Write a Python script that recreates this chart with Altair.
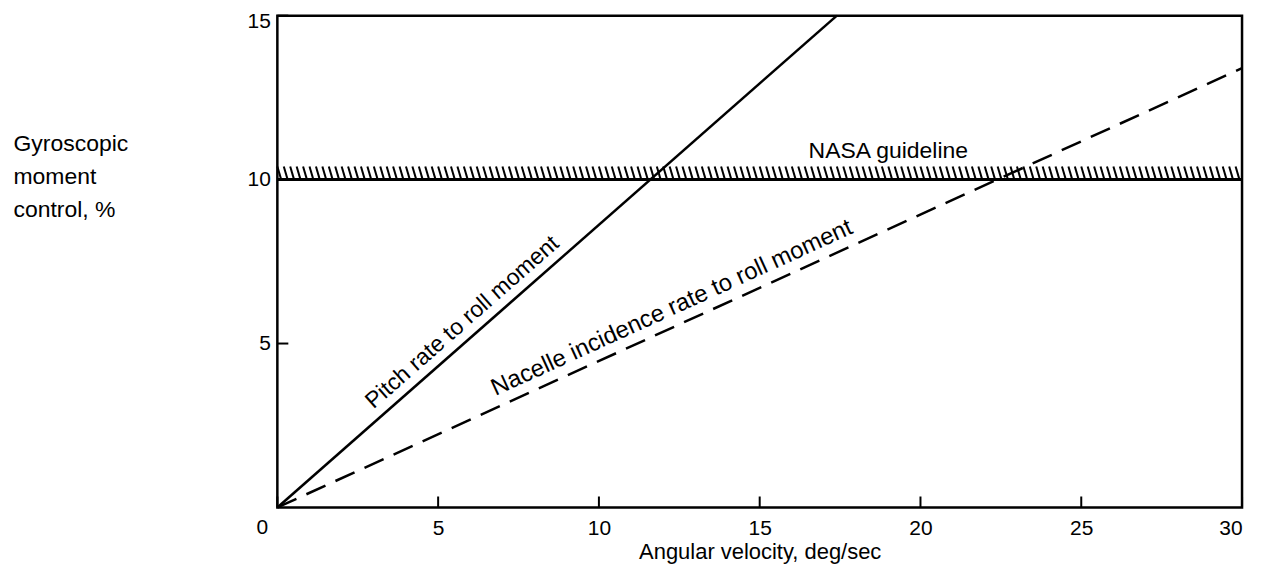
import math
import altair as alt
import pandas as pd

# ---- data ----
x_ticks = [0, 5, 10, 15, 20, 25, 30]
y_ticks = [5, 10, 15]
pitch_x = [0, 17.4]
pitch_y = [0, 15]
nacelle_x = [0, 30]
nacelle_y = [0, 13.4]
guideline = 10
hatch_top = 10.4
pitch_label = "Pitch rate to roll moment"
nacelle_label = "Nacelle incidence rate to roll moment"
guide_label = "NASA guideline"
pitch_label_x = 6.1
nacelle_label_x = 12.5
guide_label_x = 19.0

W, H = 967, 493
FONT = "Liberation Sans"
FS = 21
TFS = 23

xs = alt.Scale(domain=[0, 30], nice=False, zero=False)
ys = alt.Scale(domain=[0, 15], nice=False, zero=False)

pitch_df = pd.DataFrame({"x": pitch_x, "y": pitch_y})
nac_df = pd.DataFrame({"x": nacelle_x, "y": nacelle_y})

pitch = alt.Chart(pitch_df).mark_line(color="black", strokeWidth=2.5).encode(
    x=alt.X("x:Q", scale=xs, axis=alt.Axis(
        values=x_ticks, title="Angular velocity, deg/sec", grid=False, domain=False,
        ticks=False, labelFont=FONT, labelFontSize=FS, labelColor="black",
        labelPadding=10, titleFont=FONT, titleFontSize=22, titleFontWeight="normal",
        titleColor="black", titlePadding=3,
        labelExpr="datum.value == 0 ? '' : datum.label")),
    y=alt.Y("y:Q", scale=ys, axis=alt.Axis(
        values=y_ticks, title=["Gyroscopic", "moment", "control, %"], grid=False,
        domain=False, ticks=False, labelFont=FONT, labelFontSize=FS,
        labelColor="black", labelPadding=7, labelFlush=True, labelFlushOffset=5,
        titleFont=FONT, titleFontSize=TFS,
        titleFontWeight="normal", titleColor="black", titleAngle=0,
        titleAlign="left", titleBaseline="top", titleX=-265, titleY=117,
        titleLineHeight=33)),
)

nacelle = alt.Chart(nac_df).mark_line(color="black", strokeWidth=2.5,
                                      strokeDash=[21, 11]).encode(x="x:Q", y="y:Q")

# guideline line and hatching
guide = alt.Chart(pd.DataFrame({"y": [guideline]})).mark_rule(
    color="black", strokeWidth=3).encode(y="y:Q")
hatch = alt.Chart(alt.sequence(0, 30, 0.2, as_="h")).transform_calculate(
    h2="datum.h + 0.12", yt=str(hatch_top), yb=str(guideline)
).mark_rule(color="black", strokeWidth=2).encode(
    x="h:Q", x2="h2:Q", y="yt:Q", y2="yb:Q")

# inward ticks
xt = alt.Chart(pd.DataFrame({"x": x_ticks})).mark_rule(
    color="black", strokeWidth=2).encode(
    x="x:Q", y=alt.value(H), y2=alt.value(H - 11))
yt = alt.Chart(pd.DataFrame({"y": y_ticks})).mark_rule(
    color="black", strokeWidth=2).encode(
    y="y:Q", x=alt.value(0), x2=alt.value(11))
zero = alt.Chart(pd.DataFrame({"x": [0], "t": ["0"]})).mark_text(
    font=FONT, fontSize=FS, color="black", baseline="top", dx=-15, dy=10
).encode(x="x:Q", y=alt.value(H), text="t:N")

# angled labels along lines
def ang(x0, y0, x1, y1):
    dxp = (x1 - x0) * W / 30
    dyp = (y1 - y0) * H / 15
    return 360 - math.degrees(math.atan2(dyp, dxp))

pa = ang(pitch_x[0], pitch_y[0], pitch_x[1], pitch_y[1])
na = ang(nacelle_x[0], nacelle_y[0], nacelle_x[1], nacelle_y[1])
py = pitch_label_x * pitch_y[1] / pitch_x[1]
ny = nacelle_label_x * nacelle_y[1] / nacelle_x[1]

plab = alt.Chart(pd.DataFrame({"x": [pitch_label_x], "y": [py], "t": [pitch_label]})).mark_text(
    font=FONT, fontSize=TFS, color="black", angle=pa, baseline="bottom",
    align="center", dy=-5).encode(x="x:Q", y="y:Q", text="t:N")
nlab = alt.Chart(pd.DataFrame({"x": [nacelle_label_x], "y": [ny], "t": [nacelle_label]})).mark_text(
    font=FONT, fontSize=TFS + 1, color="black", angle=na, baseline="bottom",
    align="center", dy=-6).encode(x="x:Q", y="y:Q", text="t:N")
glab = alt.Chart(pd.DataFrame({"x": [guide_label_x], "y": [hatch_top], "t": [guide_label]})).mark_text(
    font=FONT, fontSize=TFS, color="black", baseline="bottom", align="center",
    dy=-4).encode(x="x:Q", y="y:Q", text="t:N")

chart = alt.layer(pitch, nacelle, guide, hatch, xt, yt, zero, plab, nlab, glab).properties(
    width=W, height=H,
    autosize=alt.AutoSizeParams(type="none"),
    padding={"left": 270, "top": 7, "right": 15, "bottom": 60},
    background="white",
).configure_view(stroke="black", strokeWidth=2.5)

chart.save("out.html", embed_options={"renderer": "svg", "actions": False})
